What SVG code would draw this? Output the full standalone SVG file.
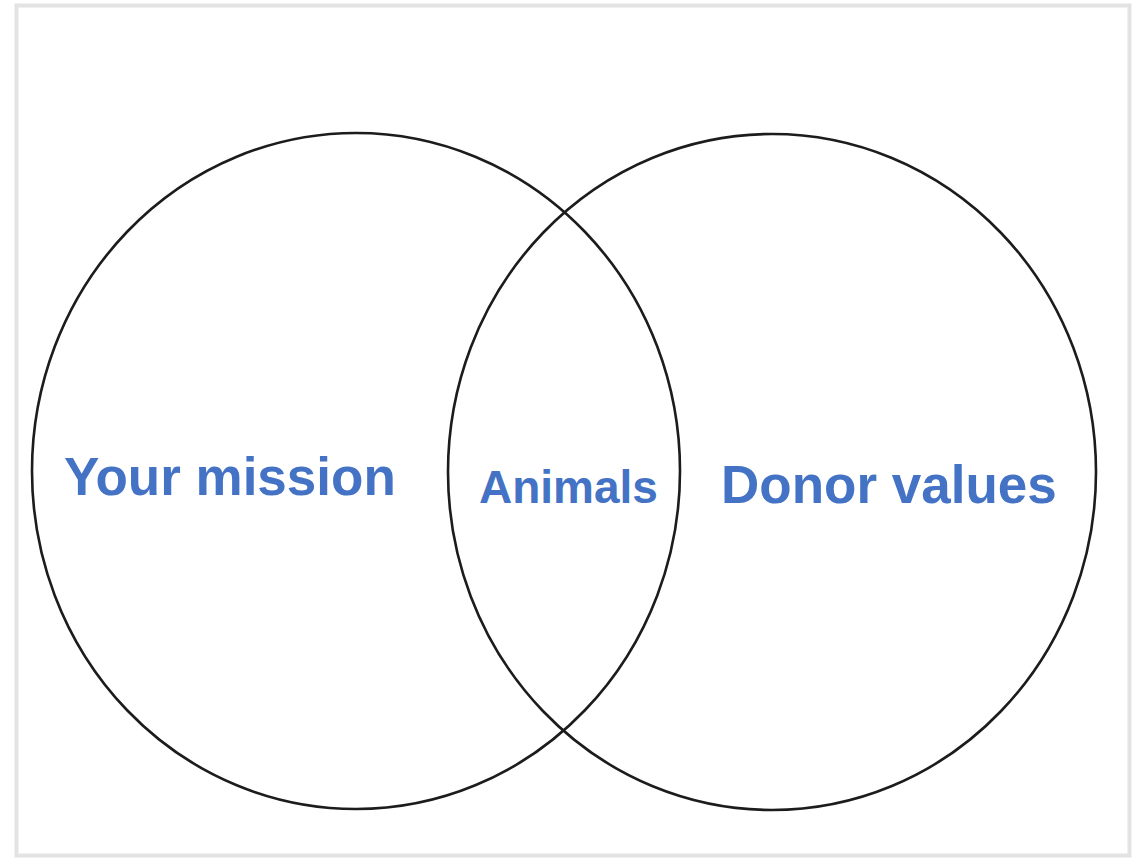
<svg xmlns="http://www.w3.org/2000/svg" width="1136" height="859" viewBox="0 0 1136 859">
<style>
.set{fill:none;stroke:#1c1c1c;stroke-width:2.6}
.lbl{font-family:"Liberation Sans",Arial,sans-serif;font-weight:bold;fill:#4472C4}
</style>
<rect x="0" y="0" width="1136" height="859" fill="#ffffff"/>
<rect x="16.5" y="5.5" width="1113" height="850" fill="none" stroke="#e3e3e3" stroke-width="4"/>
<g id="mission">
<ellipse class="set" cx="356" cy="471" rx="324" ry="338"/>
<text class="lbl" x="64" y="495" font-size="53">Your mission</text>
</g>
<g id="donor">
<ellipse class="set" cx="772" cy="472" rx="324" ry="338"/>
<text class="lbl" x="721" y="503" font-size="53">Donor values</text>
</g>
<g id="overlap">
<text class="lbl" x="479" y="503" font-size="46">Animals</text>
</g>
<g id="connectors"/>
</svg>
